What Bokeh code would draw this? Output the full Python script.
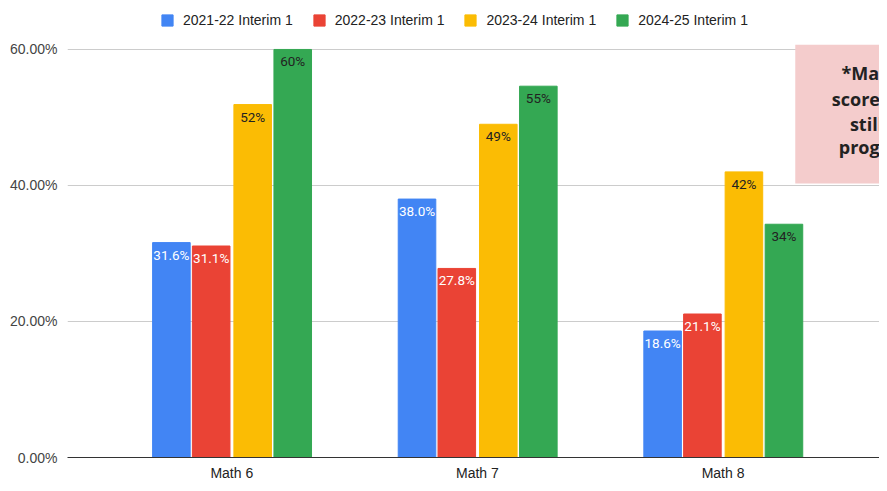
from bokeh.plotting import figure
from bokeh.models import ColumnDataSource, Range1d, FixedTicker, Legend, LegendItem
from bokeh.transform import dodge
from bokeh.core.properties import value
from bokeh.embed import file_html
from bokeh.resources import INLINE

categories = ["Math 6", "Math 7", "Math 8"]
series_names = ["2021-22 Interim 1", "2022-23 Interim 1", "2023-24 Interim 1", "2024-25 Interim 1"]
s2122 = [31.6, 38.0, 18.6]
s2223 = [31.1, 27.8, 21.1]
s2324 = [51.9, 49.0, 42.0]
s2425 = [60.0, 54.6, 34.3]
y_ticks = [0, 20, 40, 60]
y_tick_labels = ["0.00%", "20.00%", "40.00%", "60.00%"]
note_lines = ["*Math 8", "scores are", "still in", "progress"]

colors = ["#4285F4", "#EA4335", "#FBBC04", "#34A853"]
label_colors = ["#ffffff", "#ffffff", "#222222", "#222222"]
offsets = [-0.246, -0.084, 0.085, 0.248]
decimals = [1, 1, 0, 0]
series = [s2122, s2223, s2324, s2425]

W, H = 879, 483
p = figure(width=W, height=H, output_backend="svg", toolbar_location=None,
           x_range=Range1d(-0.669, 2.637), y_range=Range1d(0, 67.2),
           min_border_left=67, min_border_right=0, min_border_top=0, min_border_bottom=24)
p.outline_line_color = None
p.background_fill_color = "white"
p.border_fill_color = "white"

idx = list(range(len(categories)))
items = []
for name, vals, col, lc, off, dec in zip(series_names, series, colors, label_colors, offsets, decimals):
    src = ColumnDataSource(dict(x=idx, v=vals, lab=[f"{v:.{dec}f}%" for v in vals]))
    r = p.vbar(x=dodge("x", off), top="v", width=0.153, bottom=0, source=src,
               fill_color=col, line_color=col)
    p.text(x=dodge("x", off), y="v", text="lab", source=src, text_align="center",
           text_baseline="top", y_offset=4, text_font=value("Roboto"),
           text_font_size="13.5px", text_color=lc)
    items.append(LegendItem(label=name, renderers=[r]))

# note box
p.quad(left=[2.294], right=[3.4], bottom=[40.3], top=[60.7], fill_color="#F4CCCC", line_color=None)
p.text(x=[2.629] * 4, y=[56.6, 52.7, 49.1, 45.6], text=note_lines, text_align="center",
       text_baseline="middle", text_font=value("Open Sans"), text_font_style="bold",
       text_font_size="18px", text_color="#222222")

legend = Legend(items=items, orientation="horizontal", location=(93, 429),
                padding=0, margin=0, spacing=19, label_standoff=9,
                glyph_width=14, glyph_height=14, label_height=16,
                label_text_font="Liberation Sans", label_text_font_size="14px",
                label_text_color="#222222", border_line_color=None,
                background_fill_alpha=0)
p.add_layout(legend, "center")

p.xaxis.ticker = FixedTicker(ticks=idx)
p.xaxis.major_label_overrides = {i: c for i, c in enumerate(categories)}
p.xaxis.major_tick_line_color = None
p.xaxis.major_tick_out = 0
p.xaxis.major_tick_in = 0
p.xaxis.minor_tick_line_color = None
p.xaxis.axis_line_color = "#333333"
p.xaxis.axis_line_width = 1
p.xaxis.major_label_standoff = 7
p.xaxis.major_label_text_font = "Liberation Sans"
p.xaxis.major_label_text_font_size = "14px"
p.xaxis.major_label_text_color = "#222222"

p.yaxis.ticker = FixedTicker(ticks=y_ticks)
p.yaxis.major_label_overrides = {t: l for t, l in zip(y_ticks, y_tick_labels)}
p.yaxis.axis_line_color = None
p.yaxis.major_tick_line_color = None
p.yaxis.major_tick_out = 0
p.yaxis.major_tick_in = 0
p.yaxis.minor_tick_line_color = None
p.yaxis.major_label_standoff = 10
p.yaxis.major_label_text_font = "Liberation Sans"
p.yaxis.major_label_text_font_size = "14px"
p.yaxis.major_label_text_color = "#444444"

p.xgrid.grid_line_color = None
p.ygrid.ticker = FixedTicker(ticks=y_ticks)
p.ygrid.grid_line_color = "#cccccc"

open("out.html", "w").write(file_html(p, INLINE))
